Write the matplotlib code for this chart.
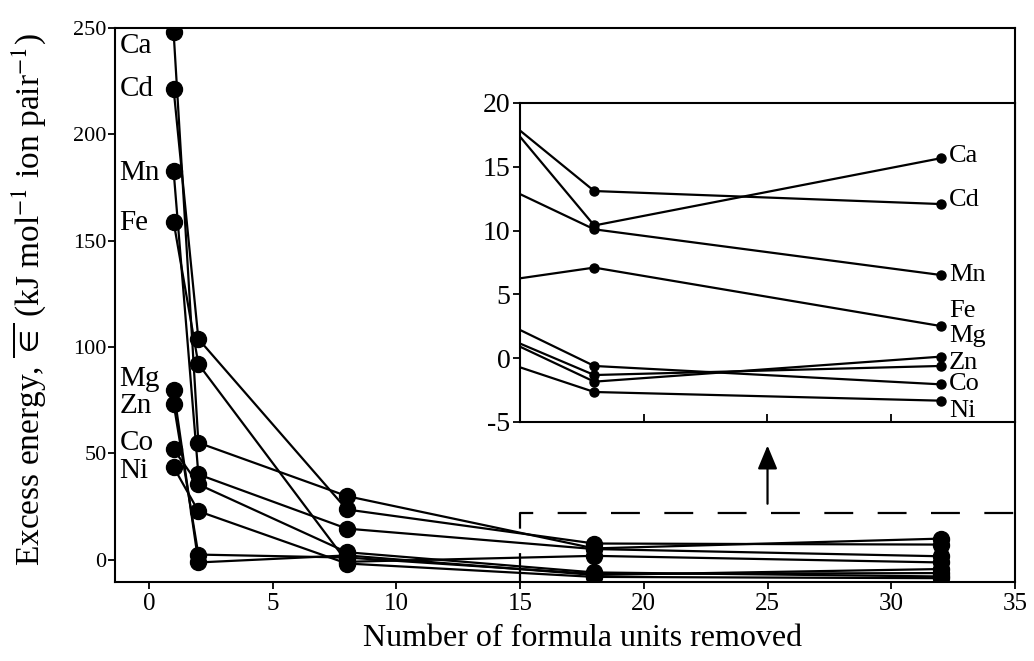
import numpy as np
import matplotlib.pyplot as plt

plt.rcParams['font.family'] = ['Liberation Serif', 'DejaVu Serif']
plt.rcParams['mathtext.fontset'] = 'stix'
plt.rcParams['axes.unicode_minus'] = False

# Data
elements = ['Ca', 'Cd', 'Mn', 'Fe', 'Mg', 'Zn', 'Co', 'Ni']
units_removed = [1, 2, 8, 18, 32]
energy = {
    'Ca': [247.9, 55.0, 29.9, 5.3, 9.9],
    'Cd': [221.2, 103.8, 23.6, 7.6, 7.1],
    'Mn': [182.7, 40.1, 14.6, 5.0, 1.6],
    'Fe': [158.8, 92.0, -1.0, 1.8, -1.3],
    'Mg': [79.7, -1.3, 2.0, -7.2, -4.4],
    'Zn': [73.4, 2.4, 1.0, -6.7, -6.3],
    'Co': [51.9, 35.4, 3.5, -6.0, -7.9],
    'Ni': [43.5, 22.8, -1.8, -8.1, -8.7],
}

# inset (values as drawn on the inset scale)
inset_units = [8, 18, 32]
inset_energy = {
    'Ca': [33.6, 10.4, 15.67],
    'Cd': [28.9, 13.1, 12.08],
    'Mn': [19.3, 10.1, 6.52],
    'Fe': [4.3, 7.1, 2.52],
    'Mg': [7.3, -1.84, 0.12],
    'Zn': [6.9, -1.32, -0.61],
    'Co': [8.8, -0.61, -2.05],
    'Ni': [3.8, -2.65, -3.33],
}

# label nudges in pixels (layout only)
main_label_dy = {'Ca': -14, 'Cd': 0, 'Mn': -2, 'Fe': -1, 'Mg': 11, 'Zn': -2, 'Co': 6, 'Ni': -4}
inset_label_dy = {'Ca': 2, 'Cd': 4, 'Mn': 0, 'Fe': 15, 'Mg': 21, 'Zn': 3, 'Co': 0, 'Ni': -10}

fig = plt.figure(figsize=(10.34, 6.61), dpi=100)
ax = fig.add_axes([0.1112, 0.1195, 0.8704, 0.8381])

for el in elements:
    ax.plot(units_removed, energy[el], 'k-', lw=1.6, marker='o', ms=11.5, zorder=3)
    ax.annotate(el, xy=(units_removed[0], energy[el][0]), xytext=(-54, main_label_dy[el]),
                textcoords='offset pixels', ha='left', va='center', fontsize=21)

ax.set_xlim(-1.37, 35)
ax.set_ylim(-10.5, 250)
ax.set_xticks(np.arange(0, 36, 5))
ax.set_yticks(np.arange(0, 251, 50))
ax.tick_params(direction='out', length=5, width=1.3, pad=3)
ax.tick_params(axis='x', labelsize=18)
ax.tick_params(axis='y', labelsize=16, pad=1)
for s in ax.spines.values():
    s.set_linewidth(1.5)
ax.set_xlabel('Number of formula units removed', fontsize=23, labelpad=5)
ax.xaxis.set_label_coords(0.52, -0.075)
ax.set_ylabel(r'Excess energy, $\overline{\in}$ (kJ mol$^{-1}$ ion pair$^{-1}$)', fontsize=24)
ax.yaxis.set_label_coords(-0.074, 0.51)

# dashed zoom region and arrow
ax.plot([15, 15, 35], [-10.5, 22, 22], 'k--', lw=1.6, dashes=(13, 11), zorder=2)
ax.annotate('', xy=(25, 55), xytext=(25, 25),
            arrowprops=dict(arrowstyle='-|>,head_length=0.6,head_width=0.25',
                            color='k', lw=1.6, mutation_scale=24))

# inset
axin = fig.add_axes([0.5029, 0.3616, 0.4787, 0.4826])
for el in inset_energy:
    axin.plot(inset_units, inset_energy[el], 'k-', lw=1.6, marker='o', ms=6.5)
    axin.annotate(el, xy=(inset_units[-1], inset_energy[el][-1]), xytext=(8, inset_label_dy[el]),
                  textcoords='offset pixels', ha='left', va='center', fontsize=19)
axin.set_xlim(15, 35)
axin.set_ylim(-5, 20)
axin.set_xticks([20, 25, 30])
axin.set_xticklabels([])
axin.set_yticks(np.arange(-5, 21, 5))
axin.tick_params(axis='x', direction='in', length=6, width=1.3)
axin.tick_params(axis='y', direction='out', length=5, width=1.3, labelsize=20, pad=2)
for s in axin.spines.values():
    s.set_linewidth(1.5)

fig.savefig('out.png', dpi=100)
